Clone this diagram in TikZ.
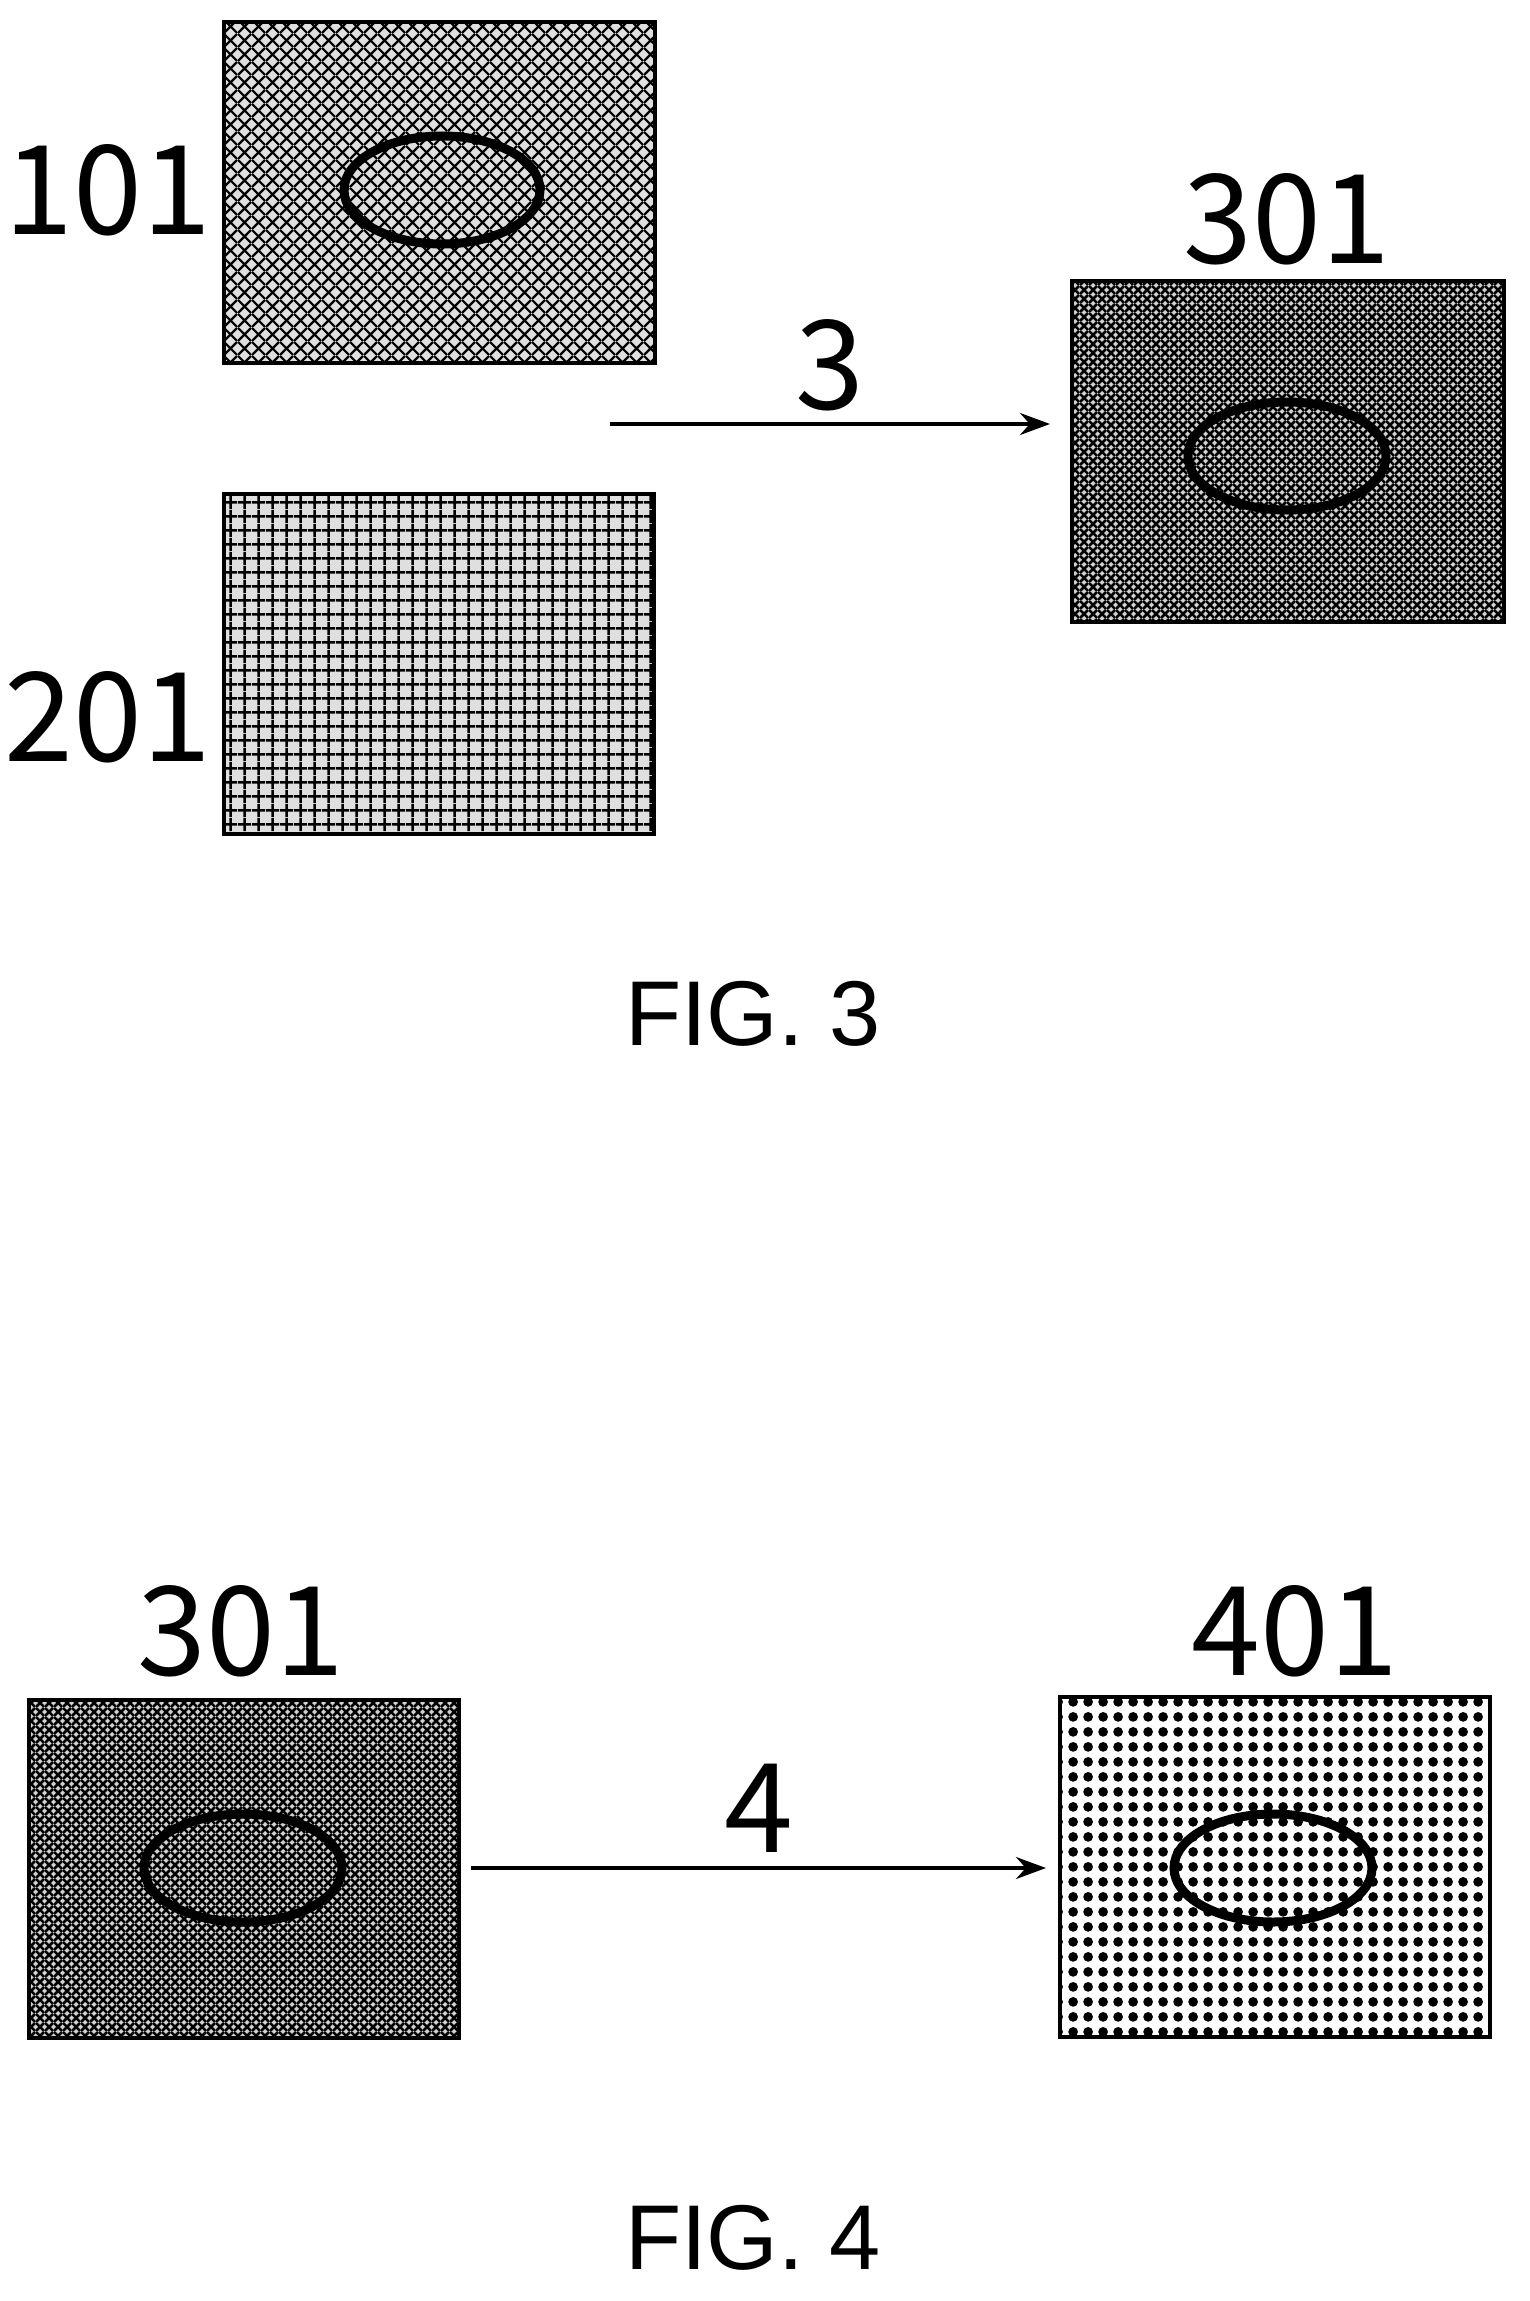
\documentclass[tikz,border=0pt]{standalone}
\usepackage{fontspec}
\setmainfont{Liberation Sans}
\newfontfamily\numfont{Noto Sans CJK SC}
\usetikzlibrary{patterns,arrows.meta}
\pgfdeclarepatternformonly{xhatch}{\pgfpointorigin}{\pgfqpoint{14pt}{14pt}}{\pgfqpoint{14pt}{14pt}}{%
  \pgfsetlinewidth{2.4pt}\pgfpathmoveto{\pgfpointorigin}\pgfpathlineto{\pgfqpoint{14pt}{14pt}}%
  \pgfpathmoveto{\pgfqpoint{0pt}{14pt}}\pgfpathlineto{\pgfqpoint{14pt}{0pt}}\pgfusepath{stroke}}
\pgfdeclarepatternformonly{sqgrid}{\pgfpointorigin}{\pgfqpoint{14pt}{14pt}}{\pgfqpoint{14pt}{14pt}}{%
  \pgfsetlinewidth{2.6pt}\pgfpathmoveto{\pgfqpoint{7pt}{0pt}}\pgfpathlineto{\pgfqpoint{7pt}{14pt}}%
  \pgfpathmoveto{\pgfqpoint{0pt}{7pt}}\pgfpathlineto{\pgfqpoint{14pt}{7pt}}\pgfusepath{stroke}}
\pgfdeclarepatternformonly{finehatch}{\pgfpointorigin}{\pgfqpoint{9pt}{9pt}}{\pgfqpoint{9pt}{9pt}}{%
  \pgfsetlinewidth{2.8pt}\pgfpathmoveto{\pgfpointorigin}\pgfpathlineto{\pgfqpoint{9pt}{9pt}}%
  \pgfpathmoveto{\pgfqpoint{0pt}{9pt}}\pgfpathlineto{\pgfqpoint{9pt}{0pt}}\pgfusepath{stroke}}
\pgfdeclarepatternformonly{bigdots}{\pgfpointorigin}{\pgfqpoint{14.6pt}{14.6pt}}{\pgfqpoint{14.6pt}{14.6pt}}{%
  \pgfpathcircle{\pgfqpoint{7.3pt}{7.3pt}}{5pt}\pgfusepath{fill}}
\tikzset{
  img/.style={draw, line width=4.5pt},
  blob/.style={draw, line width=9pt},
  lbl/.style={font=\numfont\fontsize{124}{124}\selectfont},
  fig/.style={font=\fontsize{92}{92}\selectfont},
  flow/.style={-{Stealth[length=30pt, width=22pt]}, line width=3.5pt},
}
\begin{document}
\begin{tikzpicture}[x=1pt, y=-1pt]
	\useasboundingbox (0,0) rectangle (1530,2301);
	% FIG. 3
	\fill[gray!25] (224,22) rectangle (655,363);
	\fill[pattern=xhatch] (224,22) rectangle (655,363);
	\draw[img] (224,22) rectangle (655,363);
	\draw[blob] (442,190) ellipse [x radius=98, y radius=54];
	\node[lbl] (l101) at (108,190) {101};
	\fill[gray!25] (224,494) rectangle (654,834);
	\fill[pattern=sqgrid] (224,494) rectangle (654,834);
	\draw[img] (224,494) rectangle (654,834);
	\node[lbl] (l201) at (108,717) {201};
	\fill[gray!35] (1072,281) rectangle (1504,622);
	\fill[pattern=finehatch] (1072,281) rectangle (1504,622);
	\draw[img] (1072,281) rectangle (1504,622);
	\draw[blob] (1287,456) ellipse [x radius=99, y radius=54];
	\node[lbl] (l301a) at (1287,219) {301};
	\coordinate (s3) at (610,424);
	\coordinate (e3) at (1050,424);
	\draw[flow] (s3) -- node[lbl, above=8pt] (n3) {3} (e3);
	\node[fig] (f3) at (753,1014) {FIG. 3};
	% FIG. 4
	\fill[gray!35] (29,1700) rectangle (459,2038);
	\fill[pattern=finehatch] (29,1700) rectangle (459,2038);
	\draw[img] (29,1700) rectangle (459,2038);
	\draw[blob] (243,1868) ellipse [x radius=99, y radius=54];
	\node[lbl] (l301b) at (241,1631) {301};
	\fill[pattern=bigdots] (1060,1697) rectangle (1490,2037);
	\draw[img] (1060,1697) rectangle (1490,2037);
	\draw[blob] (1273,1868) ellipse [x radius=99, y radius=54];
	\node[lbl] (l401) at (1295,1631) {401};
	\coordinate (s4) at (471,1868);
	\coordinate (e4) at (1046,1868);
	\draw[flow] (s4) -- node[lbl, above=10pt] (n4) {4} (e4);
	\node[fig] (f4) at (753,2238) {FIG. 4};
\end{tikzpicture}
\end{document}
